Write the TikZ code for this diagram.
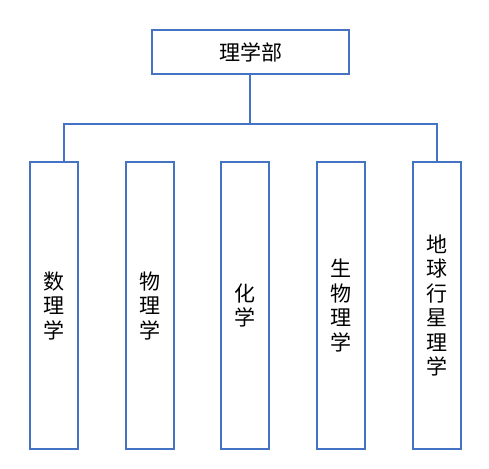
\documentclass[tikz,border=0pt]{standalone}
\usepackage{fontspec}
\newfontfamily\cjk{Noto Sans CJK SC}
\definecolor{boxblue}{HTML}{4472C4}
\begin{document}
\begin{tikzpicture}[x=1pt,y=-1pt,
  orgbox/.style={draw=boxblue,line width=2pt,rectangle,inner sep=0pt,align=center,
    font=\cjk\fontsize{21}{24.5}\selectfont},
  topbox/.style={orgbox,minimum width=197pt,minimum height=44pt},
  subbox/.style={orgbox,minimum width=48pt,minimum height=287pt},
  link/.style={draw=boxblue,line width=1.5pt}]
\useasboundingbox (0,0) rectangle (489,468);
\node[topbox] (top) at (250.5,52) {理学部};
\node[subbox] (c1) at (54,305.5) {数\\理\\学};
\node[subbox] (c2) at (150,305.5) {物\\理\\学};
\node[subbox] (c3) at (245,305.5) {化\\学};
\node[subbox] (c4) at (341,305.5) {生\\物\\理\\学};
\node[subbox] (c5) at (437,305.5) {地\\球\\行\\星\\理\\学};
\coordinate (l) at (64,124);
\coordinate (r) at (437,124);
\draw[link] (top.south -| 250,0) -- (250,124);
\draw[link] (c1.north -| l) -- (l) -- (r) -- (c5.north);
\end{tikzpicture}
\end{document}
